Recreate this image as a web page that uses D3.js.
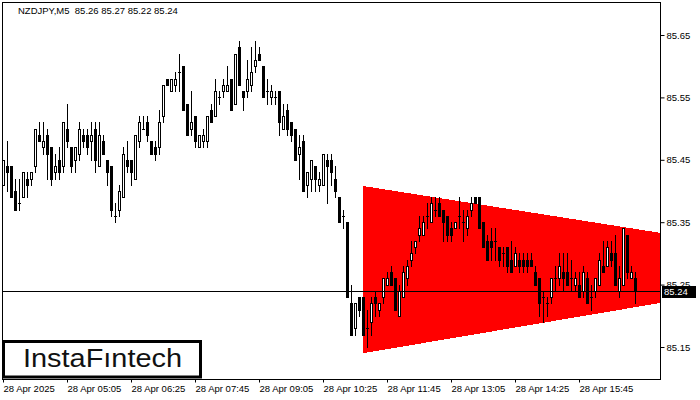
<!DOCTYPE html>
<html><head><meta charset="utf-8">
<script src="https://cdn.jsdelivr.net/npm/d3@7"></script>
<style>body{margin:0;background:#fff}svg{display:block}text{font-family:"Liberation Sans",Arial,sans-serif}</style>
</head><body><svg width="700" height="400"></svg>
<script>
const title = "NZDJPY,M5  85.26 85.27 85.22 85.24";
const opens = [
85.41,85.44,85.44,85.40,85.38,85.39,85.42,85.42,85.44,85.49,
85.47,85.49,85.47,85.43,85.45,85.44,85.50,85.47,85.45,85.46,
85.49,85.49,85.48,85.50,85.44,85.48,85.45,85.44,85.36,85.37,
85.39,85.45,85.45,85.42,85.48,85.50,85.51,85.48,85.47,85.47,
85.52,85.58,85.56,85.57,85.59,85.60,85.54,85.50,85.52,85.47,
85.48,85.48,85.53,85.52,85.55,85.56,85.56,85.58,85.54,85.63,
85.56,85.56,85.57,85.60,85.62,85.60,85.56,85.55,85.55,85.56,
85.50,85.53,85.51,85.50,85.46,85.48,85.41,85.42,85.44,85.41,
85.41,85.45,85.45,85.42,85.39,85.36,85.35,85.22,85.18,85.23,
85.23,85.18,85.19,85.23,85.21,85.23,85.25,85.27,85.26,85.20,
85.23,85.26,85.29,85.31,85.33,85.33,85.36,85.35,85.37,85.38,
85.37,85.36,85.34,85.34,85.36,85.35,85.34,85.37,85.39,85.39,
85.35,85.32,85.32,85.32,85.31,85.30,85.31,85.29,85.28,85.29,
85.29,85.29,85.29,85.27,85.26,85.23,85.22,85.23,85.26,85.26,
85.27,85.27,85.26,85.25,85.25,85.24,85.26,85.23,85.24,85.25,
85.28,85.28,85.30,85.30,85.24,85.25,85.33,85.26,85.26];
const highs = [
85.45,85.48,85.44,85.42,85.42,85.43,85.43,85.43,85.50,85.51,
85.51,85.50,85.47,85.46,85.47,85.51,85.54,85.47,85.47,85.51,
85.50,85.50,85.51,85.51,85.51,85.49,85.45,85.44,85.38,85.41,
85.47,85.48,85.45,85.49,85.52,85.52,85.52,85.48,85.48,85.53,
85.57,85.58,85.58,85.59,85.62,85.60,85.54,85.56,85.52,85.49,
85.50,85.52,85.54,85.58,85.56,85.58,85.60,85.58,85.62,85.64,
85.56,85.61,85.63,85.64,85.63,85.60,85.58,85.57,85.56,85.56,
85.54,85.54,85.51,85.50,85.49,85.49,85.43,85.45,85.44,85.43,
85.46,85.46,85.46,85.44,85.39,85.37,85.35,85.25,85.22,85.23,
85.23,85.21,85.23,85.24,85.22,85.26,85.27,85.28,85.26,85.25,
85.28,85.29,85.32,85.32,85.36,85.36,85.38,85.39,85.39,85.39,
85.37,85.36,85.35,85.35,85.39,85.37,85.37,85.39,85.39,85.39,
85.35,85.33,85.34,85.34,85.31,85.31,85.31,85.32,85.31,85.30,
85.30,85.30,85.30,85.28,85.26,85.24,85.23,85.26,85.28,85.30,
85.30,85.30,85.29,85.27,85.27,85.28,85.27,85.25,85.26,85.30,
85.32,85.32,85.32,85.33,85.28,85.34,85.33,85.28,85.27];
const lows = [
85.41,85.40,85.39,85.37,85.37,85.39,85.39,85.41,85.43,85.48,
85.46,85.42,85.41,85.42,85.42,85.43,85.47,85.43,85.43,85.45,
85.47,85.46,85.45,85.43,85.44,85.46,85.41,85.36,85.35,85.36,
85.39,85.43,85.41,85.42,85.47,85.50,85.48,85.46,85.45,85.46,
85.51,85.57,85.56,85.56,85.56,85.53,85.49,85.49,85.47,85.47,
85.47,85.47,85.51,85.52,85.54,85.55,85.56,85.53,85.54,85.57,
85.53,85.55,85.56,85.59,85.61,85.55,85.54,85.54,85.54,85.49,
85.50,85.49,85.48,85.45,85.42,85.40,85.39,85.40,85.40,85.40,
85.41,85.38,85.41,85.39,85.35,85.34,85.23,85.17,85.17,85.20,
85.17,85.15,85.17,85.20,85.20,85.22,85.25,85.25,85.21,85.20,
85.23,85.25,85.28,85.30,85.32,85.33,85.34,85.35,85.36,85.36,
85.32,85.32,85.32,85.34,85.34,85.32,85.33,85.36,85.38,85.34,
85.31,85.29,85.29,85.29,85.28,85.28,85.27,85.27,85.28,85.27,
85.27,85.27,85.28,85.25,85.20,85.19,85.20,85.22,85.24,85.25,
85.24,85.25,85.24,85.24,85.23,85.23,85.22,85.21,85.23,85.25,
85.27,85.28,85.28,85.25,85.23,85.25,85.26,85.26,85.22];
const closes = [
85.45,85.43,85.39,85.37,85.38,85.43,85.41,85.43,85.50,85.48,
85.48,85.46,85.42,85.44,85.43,85.51,85.48,85.44,85.47,85.50,
85.48,85.47,85.49,85.45,85.49,85.46,85.43,85.37,85.36,85.40,
85.46,85.44,85.43,85.49,85.51,85.50,85.49,85.46,85.46,85.51,
85.57,85.57,85.58,85.58,85.59,85.53,85.49,85.51,85.48,85.49,
85.49,85.52,85.51,85.56,85.55,85.57,85.57,85.53,85.62,85.57,
85.55,85.58,85.59,85.61,85.61,85.55,85.56,85.56,85.55,85.51,
85.52,85.50,85.49,85.45,85.47,85.40,85.43,85.45,85.42,85.42,
85.46,85.44,85.43,85.40,85.35,85.36,85.23,85.17,85.22,85.21,
85.17,85.18,85.22,85.22,85.22,85.26,85.26,85.25,85.21,85.24,
85.27,85.28,85.30,85.32,85.34,85.35,85.36,85.38,85.37,85.36,
85.35,85.33,85.33,85.35,85.36,85.35,85.36,85.38,85.38,85.34,
85.31,85.29,85.31,85.32,85.29,85.30,85.28,85.27,85.30,85.28,
85.28,85.28,85.28,85.25,85.22,85.23,85.22,85.26,85.26,85.28,
85.26,85.25,85.26,85.26,85.23,85.27,85.22,85.23,85.26,85.29,
85.27,85.31,85.29,85.25,85.26,85.34,85.27,85.27,85.24];
const xTickIdx = [0,16,32,48,64,80,96,112,128,144];
const xTickLabels = ["28 Apr 2025","28 Apr 05:05","28 Apr 06:25","28 Apr 07:45","28 Apr 09:05","28 Apr 10:25","28 Apr 11:45","28 Apr 13:05","28 Apr 14:25","28 Apr 15:45"];
const yTicks = [85.15,85.25,85.35,85.45,85.55,85.65];
const lastPrice = 85.24;
const triIdx = [90,164.25];
const triUpper = [85.408,85.333];
const triLower = [85.140,85.2205];
const logoText = "InstaF\u0131ntech";

const svg = d3.select("svg");
const L=2.5, R=660.5, T=2.5, B=379.5;
const x = d3.scaleLinear().domain([0,160]).range([3,643]);
const y = d3.scaleLinear().domain([85.15,85.65]).range([347,35]);

// triangle
const tri = [[triIdx[0],triUpper[0]],[triIdx[1],triUpper[1]],[triIdx[1],triLower[1]],[triIdx[0],triLower[0]]];
svg.append("path").attr("d", d3.line().x(d=>x(d[0])).y(d=>y(d[1]))(tri)+"Z")
  .attr("fill","#ff0000").attr("shape-rendering","crispEdges");

// candles
const g = svg.append("g").attr("shape-rendering","crispEdges");
opens.forEach((o,i)=>{
  const c=closes[i], h=highs[i], l=lows[i];
  const cx=Math.round(x(i));
  const yh=Math.round(y(h)), yl=Math.round(y(l));
  const top=Math.round(y(Math.max(o,c))), bot=Math.round(y(Math.min(o,c)));
  g.append("rect").attr("x",cx).attr("y",yh).attr("width",1).attr("height",Math.max(1,yl-yh+1)).attr("fill","#000");
  g.append("rect").attr("x",cx-1).attr("y",top).attr("width",3).attr("height",bot-top+1).attr("fill","#000");
  if(c>o && bot-top-1>0){
    g.append("rect").attr("x",cx).attr("y",top+1).attr("width",1).attr("height",bot-top-1).attr("fill","#fff");
  }
});

// last price line
const yp=Math.round(y(lastPrice))+0.5;
svg.append("line").attr("x1",L).attr("x2",R).attr("y1",yp).attr("y2",yp).attr("stroke","#000").attr("stroke-width",1);

// frame
svg.append("rect").attr("x",L).attr("y",T).attr("width",R-L).attr("height",B-T).attr("fill","none").attr("stroke","#000");

// axes
const ya = svg.append("g").attr("transform",`translate(${R},0)`)
  .call(d3.axisRight(y).tickValues(yTicks).tickSize(4).tickSizeOuter(0).tickPadding(2).tickFormat(d3.format(".2f")));
ya.select(".domain").remove();
ya.selectAll("text").attr("font-size","9.5px").attr("fill","#000").attr("font-family","Liberation Sans, Arial, sans-serif");
ya.selectAll("line").attr("stroke","#000");

const xa = svg.append("g").attr("transform",`translate(0,${B})`)
  .call(d3.axisBottom(x).tickValues(xTickIdx).tickSize(3).tickSizeOuter(0).tickPadding(3).tickFormat((d,i)=>xTickLabels[i]));
xa.select(".domain").remove();
xa.selectAll("text").attr("text-anchor","start").attr("dx","0").attr("font-size","9.5px").attr("fill","#000").attr("font-family","Liberation Sans, Arial, sans-serif");
xa.selectAll("line").attr("stroke","#000");

// price label
svg.append("rect").attr("x",662).attr("y",yp-5.5).attr("width",34).attr("height",12).attr("fill","#000");
svg.append("text").attr("x",664).attr("y",yp+0.5).attr("dy","0.35em").attr("font-size","9.5px").attr("fill","#fff").text(d3.format(".2f")(lastPrice));

// title
svg.append("text").attr("x",18).attr("y",14).attr("font-size","9.5px").attr("fill","#000")
  .style("white-space","pre").attr("xml:space","preserve").text(title);

// logo
svg.append("rect").attr("x",3.5).attr("y",341.5).attr("width",197).attr("height",35.5).attr("fill","#fff").attr("stroke","#000").attr("stroke-width",3);
svg.append("text").attr("x",23).attr("y",367).attr("font-size","25px").attr("font-family","Open Sans, Noto Sans, sans-serif")
  .attr("fill","#111").attr("textLength",159).attr("lengthAdjust","spacingAndGlyphs").text(logoText);
</script></body></html>
